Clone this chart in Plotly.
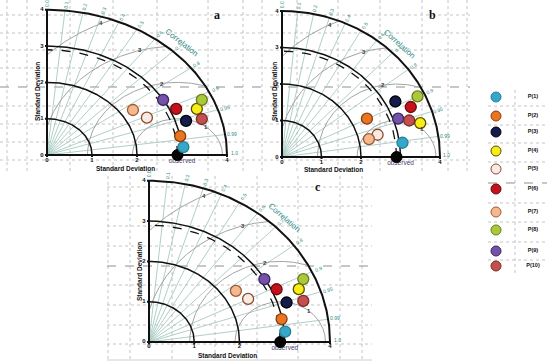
import numpy as np
import plotly.graph_objects as go

W, H = 550, 364

# ---------------- data ----------------
models = [f"P({i})" for i in range(1, 11)]
fill = ["#35a7c9", "#e8751f", "#141c4e", "#f6ee14", "#f7ebe4",
        "#c3121c", "#f6b88f", "#a9c93a", "#7452a8", "#c4504e"]
edge = ["#2a7d96", "#8a3d0c", "#000000", "#5a4c00", "#8b4a2c",
        "#6a0a0a", "#9a5a35", "#6a7a20", "#3a2560", "#7a2a28"]

# standard deviation / correlation of each model, per panel
std_a = [3.038, 3.005, 3.230, 3.564, 2.447, 3.138, 2.277, 3.761, 2.994, 3.580]
corr_a = [0.9974, 0.985, 0.9567, 0.9343, 0.9072, 0.9146, 0.8388, 0.9147, 0.8617, 0.9609]
std_b = [3.075, 2.393, 3.248, 3.621, 2.496, 3.536, 2.254, 3.811, 3.122, 3.372]
corr_b = [0.9919, 0.8985, 0.8837, 0.9665, 0.9697, 0.9219, 0.9761, 0.9001, 0.9417, 0.955]
std_c = [3.021, 2.985, 3.194, 3.560, 2.437, 3.109, 2.302, 3.750, 2.989, 3.559]
corr_c = [0.9963, 0.9816, 0.9518, 0.9298, 0.8986, 0.907, 0.834, 0.9093, 0.853, 0.9581]
obs_std = [2.9, 2.9, 2.9]

corr_marks = [0.0, 0.1, 0.2, 0.3, 0.4, 0.5, 0.6, 0.7, 0.8, 0.9, 0.95, 0.99, 1.0]
std_rings = [1, 2, 3, 4]
rms_rings = [1, 2, 3, 4]
x_ticks = [0, 1, 2, 4]
y_ticks = [0, 1, 2, 3, 4]

# ---------------- layout config ----------------
panels = [
    dict(tag="a", sfx="", ox=47, oy=155, sx=45.0, sy=36.3, std=std_a, corr=corr_a, obs=obs_std[0],
         letter=(217, 15), ytitle=(37, 92), xtitle=(125, 168)),
    dict(tag="b", sfx="2", ox=282, oy=157, sx=39.5, sy=36.5, std=std_b, corr=corr_b, obs=obs_std[1],
         letter=(432, 15), ytitle=(274, 92), xtitle=(333, 169)),
    dict(tag="c", sfx="3", ox=149, oy=342, sx=45.25, sy=40.3, std=std_c, corr=corr_c, obs=obs_std[2],
         letter=(318, 187), ytitle=(139, 272), xtitle=(227, 355)),
]
rms_label_angle = {1: 50, 2: 100, 3: 106, 4: 115}
legend_y = [97, 116, 132, 151, 169, 189, 212, 230, 251, 266]
legend_mx, legend_tx = 496, 533

TEAL = "#2f8a86"
RAD = "#a6c9c1"
GREY = "#a3a3a3"
FONT = "Liberation Sans, Arial, sans-serif"

fig = go.Figure()
annotations = []
shapes = []


def px(x):
    return x / W


def py(y):
    return 1 - y / H


def to_paper(p, x, y):
    return (p["ox"] + x * p["sx"]) / W, 1 - (p["oy"] - y * p["sy"]) / H


def note(X, Y, text, font, angle=0):
    annotations.append(dict(x=X, y=Y, xref="paper", yref="paper", text=text, showarrow=False,
                            xanchor="center", yanchor="middle", textangle=angle, font=font,
                            borderpad=0))


# ---------------- background dotted grid ----------------
def vline(x, y0, y1, dash="dot", color="#c4c4c4", width=1):
    shapes.append(dict(type="line", xref="paper", yref="paper", x0=px(x), x1=px(x), y0=py(y0), y1=py(y1),
                       line=dict(color=color, width=width, dash=dash), layer="below"))


def hline(y, x0, x1, dash="dot", color="#c4c4c4", width=1):
    shapes.append(dict(type="line", xref="paper", yref="paper", x0=px(x0), x1=px(x1), y0=py(y), y1=py(y),
                       line=dict(color=color, width=width, dash=dash), layer="below"))


for x in [7, 27, 70, 113, 157, 208, 243, 262, 297, 338, 380, 422, 448, 467]:
    vline(x, 0, 172)
for y in [15, 33, 50, 68, 106, 124, 142, 160]:
    hline(y, 0, 470)
hline(87, 0, 470, dash="dash", color="#8f8f8f")

for y in [106, 125, 143, 162, 203, 222, 242, 260]:
    hline(y, 488, 547)
hline(183, 488, 547, dash="dash", color="#8f8f8f")
vline(515, 90, 275)

for x in [108, 130, 172, 215, 257, 298, 340, 362]:
    vline(x, 176, 360)
for y in [187, 206, 226, 246, 285, 305, 325, 344]:
    hline(y, 107, 372)
hline(266, 107, 372, dash="dash", color="#8f8f8f")
hline(360, 107, 372, dash="solid", color="#d0d0d0")

# ---------------- Taylor panels ----------------
XMIN, XMAX, YMIN = -0.5, 4.6, -0.42
tickfont = dict(size=6, family=FONT, color="#111", weight="bold")
for p in panels:
    xa, ya = "x" + p["sfx"], "y" + p["sfx"]
    ymax = min(4.5, p["oy"] / p["sy"])
    xdom = [(p["ox"] + XMIN * p["sx"]) / W, (p["ox"] + XMAX * p["sx"]) / W]
    ydom = [1 - (p["oy"] - YMIN * p["sy"]) / H, 1 - (p["oy"] - ymax * p["sy"]) / H]
    axcommon = dict(showgrid=False, zeroline=False, showline=False, ticks="", showticklabels=False)
    fig.update_layout(**{
        "xaxis" + p["sfx"]: dict(domain=xdom, range=[XMIN, XMAX], anchor=ya, **axcommon),
        "yaxis" + p["sfx"]: dict(domain=ydom, range=[YMIN, ymax], anchor=xa, **axcommon),
    })

    # radial correlation lines
    rx, ry = [], []
    for c in corr_marks[1:-1]:
        s = np.sqrt(1 - c * c)
        rx += [0, 4 * c, None]
        ry += [0, 4 * s, None]
    fig.add_trace(go.Scatter(x=rx, y=ry, mode="lines", line=dict(color=RAD, width=0.9),
                             xaxis=xa, yaxis=ya, hoverinfo="skip", showlegend=False))

    # centred RMS difference arcs
    t = np.linspace(0, np.pi, 721)
    ax_, ay_ = [], []
    for L in rms_rings:
        xx = p["obs"] + L * np.cos(t)
        yy = L * np.sin(t)
        ok = (xx >= 0) & (yy >= 0) & (xx ** 2 + yy ** 2 <= 16)
        ax_ += [float(v) if m else None for v, m in zip(xx, ok)] + [None]
        ay_ += [float(v) if m else None for v, m in zip(yy, ok)] + [None]
        ang = np.radians(rms_label_angle[L])
        X, Y = to_paper(p, p["obs"] + L * np.cos(ang), L * np.sin(ang))
        note(X, Y, str(L), dict(size=6, color="#3a3a3a", family=FONT, weight="bold"))
    fig.add_trace(go.Scatter(x=ax_, y=ay_, mode="lines", line=dict(color=GREY, width=1),
                             xaxis=xa, yaxis=ya, hoverinfo="skip", showlegend=False, connectgaps=False))

    # standard deviation rings
    th = np.linspace(0, np.pi / 2, 181)
    for r in std_rings:
        fig.add_trace(go.Scatter(x=r * np.cos(th), y=r * np.sin(th), mode="lines",
                                 line=dict(color="#111111", width=2 if r == 4 else 1.5),
                                 xaxis=xa, yaxis=ya, hoverinfo="skip", showlegend=False))
    # observed std dashed ring
    fig.add_trace(go.Scatter(x=p["obs"] * np.cos(th), y=p["obs"] * np.sin(th), mode="lines",
                             line=dict(color="#111111", width=1.3, dash="dash"),
                             xaxis=xa, yaxis=ya, hoverinfo="skip", showlegend=False))
    # axes lines and tick marks
    tx, ty = [0, 4, None, 0, 0, None], [0, 0, None, 0, 4, None]
    for v in x_ticks:
        tx += [v, v, None]
        ty += [0, -2 / p["sy"], None]
    for v in y_ticks:
        tx += [0, -2 / p["sx"], None]
        ty += [v, v, None]
    fig.add_trace(go.Scatter(x=tx, y=ty, mode="lines", line=dict(color="#111111", width=2),
                             xaxis=xa, yaxis=ya, hoverinfo="skip", showlegend=False))

    # tick labels
    fig.add_trace(go.Scatter(x=x_ticks, y=[-5.0 / p["sy"]] * len(x_ticks), mode="text",
                             text=[str(v) for v in x_ticks], textfont=tickfont, cliponaxis=False,
                             xaxis=xa, yaxis=ya, hoverinfo="skip", showlegend=False))
    fig.add_trace(go.Scatter(x=[-5.0 / p["sx"]] * len(y_ticks), y=y_ticks, mode="text",
                             text=[str(v) for v in y_ticks], textfont=tickfont, cliponaxis=False,
                             xaxis=xa, yaxis=ya, hoverinfo="skip", showlegend=False))

    # correlation labels
    for c in corr_marks:
        phi = np.arccos(c)
        r = 4.16
        X, Y = to_paper(p, r * np.cos(phi), r * np.sin(phi) + (0.05 if c == 1.0 else 0))
        sang = np.degrees(np.arctan2(p["sy"] * np.sin(phi), p["sx"] * np.cos(phi)))
        lab = "1.0" if c == 1.0 else ("0.0" if c == 0 else f"{c:g}")
        note(X, Y, lab, dict(size=5, color=TEAL, family=FONT), angle=-sang if c < 0.97 else 0)
    # "Correlation" label
    phi = np.radians(46)
    X, Y = to_paper(p, 4.3 * np.cos(phi), 4.3 * np.sin(phi))
    tang = np.degrees(np.arctan2(p["sy"] * np.cos(phi), p["sx"] * np.sin(phi)))
    note(X, Y, "Correlation", dict(size=8, color=TEAL, family=FONT), angle=tang)

    # observed label + point
    fig.add_trace(go.Scatter(x=[p["obs"] + 0.1], y=[-6.5 / p["sy"]], mode="text", text=["observed"],
                             textfont=dict(size=6.5, color="#4a3a6a", family=FONT), cliponaxis=False,
                             xaxis=xa, yaxis=ya, hoverinfo="skip", showlegend=False))
    fig.add_trace(go.Scatter(x=[p["obs"]], y=[0], mode="markers", cliponaxis=False,
                             marker=dict(size=11, color="#050505", line=dict(color="#000", width=1)),
                             xaxis=xa, yaxis=ya, hoverinfo="skip", showlegend=False))

    # model points
    for i, m in enumerate(models):
        s, c = p["std"][i], p["corr"][i]
        fig.add_trace(go.Scatter(x=[s * c], y=[s * np.sqrt(1 - c * c)], mode="markers", name=m,
                                 cliponaxis=False,
                                 marker=dict(size=11, color=fill[i], line=dict(color=edge[i], width=1.3)),
                                 xaxis=xa, yaxis=ya, showlegend=False))

    # titles and letter
    title_font = dict(size=6.5, color="#111", family=FONT, weight="bold")
    note(px(p["xtitle"][0]), py(p["xtitle"][1]), "Standard Deviation", title_font)
    note(px(p["ytitle"][0]), py(p["ytitle"][1]), "Standard Deviation", title_font, angle=-90)
    note(px(p["letter"][0]), py(p["letter"][1]), p["tag"],
         dict(size=12, color="#111", family="Liberation Serif, Times New Roman, serif", weight="bold"))

# ---------------- legend (own axis in pixel units) ----------------
for i, m in enumerate(models):
    fig.add_trace(go.Scatter(x=[legend_mx], y=[legend_y[i]], mode="markers", name=m,
                             marker=dict(size=10, color=fill[i], line=dict(color=edge[i], width=1)),
                             xaxis="x4", yaxis="y4", showlegend=False))
fig.add_trace(go.Scatter(x=[legend_tx] * len(models), y=legend_y, mode="text", text=models,
                         textfont=dict(size=5.5, color="#111", family=FONT, weight="bold"),
                         xaxis="x4", yaxis="y4", hoverinfo="skip", showlegend=False))

fig.update_layout(
    width=W, height=H, margin=dict(l=0, r=0, t=0, b=0),
    paper_bgcolor="white", plot_bgcolor="rgba(0,0,0,0)",
    showlegend=False, hovermode=False,
    xaxis4=dict(domain=[0, 1], range=[0, W], visible=False, anchor="y4"),
    yaxis4=dict(domain=[0, 1], range=[H, 0], visible=False, anchor="x4"),
    annotations=annotations, shapes=shapes,
)

fig.write_html("out.html", config={"displayModeBar": False, "staticPlot": True},
               post_script="document.body.style.margin='0px';document.body.style.overflow='hidden';")
